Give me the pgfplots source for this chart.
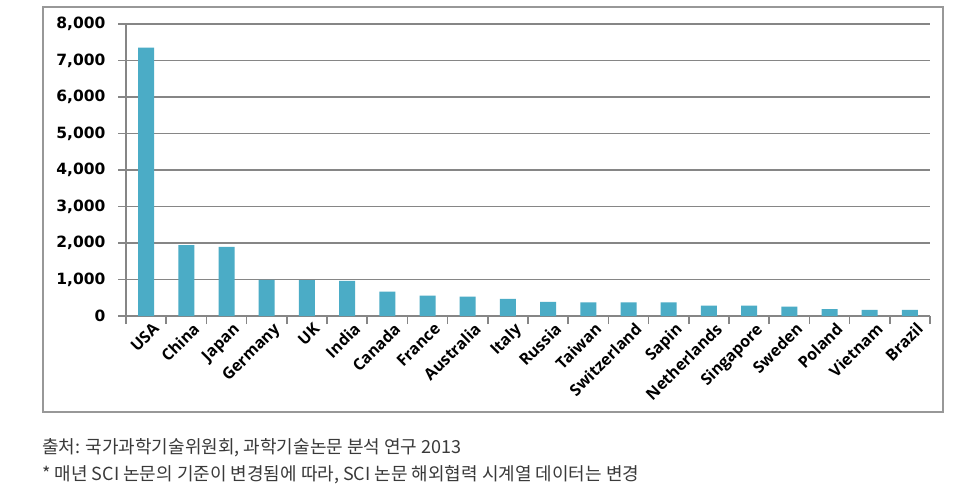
\documentclass[border=0pt]{standalone}
\usepackage{fontspec}
\setmainfont{DejaVu Sans}
\newfontfamily\xlab{Open Sans}
\newfontfamily\kr{Noto Sans CJK KR}
\usepackage{pgfplots}
\pgfplotsset{compat=1.18}
\definecolor{barc}{HTML}{4BACC6}
\definecolor{gridc}{HTML}{868686}
\definecolor{capc}{HTML}{3A3A3A}
\begin{document}
\begin{tikzpicture}[x=1pt,y=1pt]
\fill[white] (0,0) rectangle (972,499);
\draw[gridc!85, line width=1.3pt] (43,492) rectangle (943,87);
\begin{axis}[
  at={(126pt,183pt)}, anchor=south west,
  scale only axis, width=804pt, height=292pt,
  xmin=-0.5, xmax=19.5, ymin=0, ymax=8000,
  ytick={0,1000,...,8000},
  ymajorgrids, grid style={gridc, line width=1.5pt},
  axis x line*=bottom, axis y line*=left,
  axis line style={gridc, line width=1.5pt},
  tick style={gridc, line width=1.5pt},
  tick align=outside, major tick length=8pt,
  xtick={-0.5,0.5,...,19.5}, xticklabels={},
  extra x ticks={0,1,...,19},
  extra x tick style={major tick length=0pt, tick style={draw=none}},
  extra x tick labels={USA,China,Japan,Germany,UK,India,Canada,France,Australia,Italy,Russia,Taiwan,Switzerland,Sapin,Netherlands,Singapore,Sweden,Poland,Vietnam,Brazil},
  x tick label style={rotate=45, anchor=north east, inner sep=1pt, font=\xlab\bfseries\fontsize{16}{16}\selectfont, xshift=1pt, yshift=-7pt},
  y tick label style={font=\bfseries\fontsize{15.5}{15.5}\selectfont, xshift=-9pt},
  /pgf/number format/assume math mode=true,
  /pgf/number format/.cd, 1000 sep={,},
]
\addplot[ybar, bar width=16pt, fill=barc, draw=none] coordinates {
(0,7350) (1,1945) (2,1895) (3,990) (4,985) (5,960) (6,670) (7,560) (8,530) (9,470)
(10,390) (11,375) (12,375) (13,375) (14,285) (15,285) (16,255) (17,190) (18,165) (19,165)};
\end{axis}
\node[anchor=base west, inner sep=0pt, text=capc, font=\kr\fontsize{18}{18}\selectfont] at (42,46) {출처: 국가과학기술위원회, 과학기술논문 분석 연구 2013};
\node[anchor=base west, inner sep=0pt, text=capc, font=\kr\fontsize{18}{18}\selectfont] at (42,19) {* 매년 SCI 논문의 기준이 변경됨에 따라, SCI 논문 해외협력 시계열 데이터는 변경};
\end{tikzpicture}
\end{document}
